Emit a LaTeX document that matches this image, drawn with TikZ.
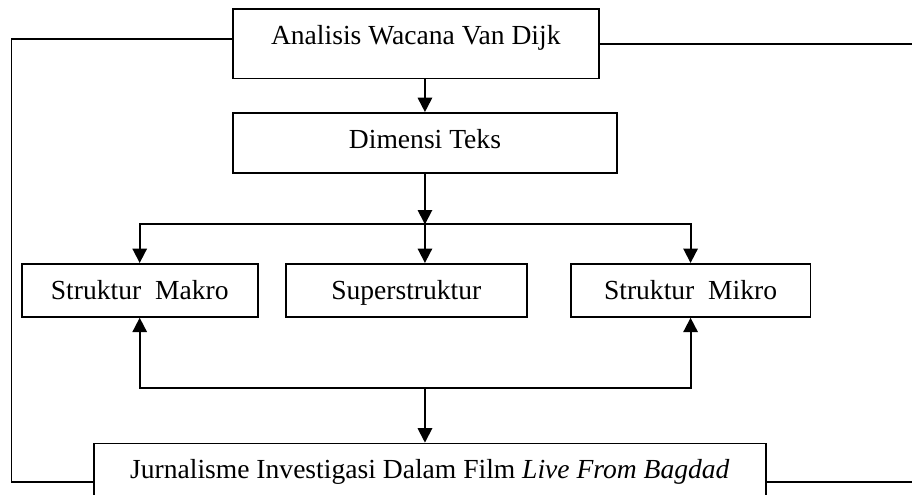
\documentclass[tikz,border=0pt]{standalone}
\usepackage{fontspec}
\setmainfont{Liberation Serif}
\usepackage{tikz}
\usetikzlibrary{positioning, calc, arrows.meta}
\tikzstyle{block} = [
    rectangle, text centered, draw=black, fill=white,
    line width=0.8pt, inner xsep=2mm, inner ysep=1mm, font=\fontsize{12}{14}\selectfont,
    text height=0.7em, text depth=0.22em
]
\tikzstyle{hightext} = [text height=0.7em, text depth=0.6em]
\tikzstyle{lowtext} = [text height=0.9em, text depth=0.07em]
\tikzstyle{arrow} = [line width=0.8pt, -{Triangle[length=2.2mm, width=2.2mm]}, black]
\tikzstyle{link} = [line width=0.8pt, black]

\begin{document}
\begin{tikzpicture}

    % page frame
    \useasboundingbox (-6.36,0.67) rectangle (7.59,-6.89);
    \clip (-6.36,0.67) rectangle (7.59,-6.89);

    % boxes
    \node[block, hightext, minimum width=5.6cm, minimum height=1.06cm] (analisis) at (0,0) {Analisis Wacana Van Dijk};
    \node[block, minimum width=5.88cm, minimum height=0.92cm] (dimensi) [below=0.5cm of analisis.south west, anchor=north west] {Dimensi Teks};
    \node[block, lowtext, minimum width=3.69cm, minimum height=0.81cm] (superstruktur) [below=1.36cm of dimensi.south west, xshift=0.81cm, anchor=north west] {Superstruktur};
    \node[block, lowtext, minimum width=3.61cm, minimum height=0.81cm] (makro) [left=0.4cm of superstruktur] {Struktur\ \ Makro};
    \node[block, lowtext, minimum width=3.67cm, minimum height=0.81cm] (mikro) [right=0.64cm of superstruktur] {Struktur\ \ Mikro};
    \node[block, text height=0.8em, minimum width=10.28cm, minimum height=0.86cm] (jurnalisme) [below=1.91cm of superstruktur, xshift=0.36cm] {Jurnalisme Investigasi Dalam Film \textit{Live From Bagdad}};

    % branch points
    \coordinate[below=0.77cm of dimensi.south] (split);
    \coordinate (merge) at ($(superstruktur.south -| split)+(0,-1.08)$);
    \coordinate[left=3.37cm of analisis.west, yshift=0.07cm] (anchor1);
    \coordinate[right=5cm of analisis.east] (anchor2);
    \coordinate[right=3cm of jurnalisme.east, yshift=-0.16cm] (anchor3);

    % arrows down from the top
    \draw[arrow] (analisis.south -| dimensi.north) -- (dimensi.north);
    \draw[arrow] (dimensi.south) -- (split);
    \draw[arrow] (split) -| (makro.north);
    \draw[arrow] (split) -- (split |- superstruktur.north);
    \draw[arrow] (split) -| (mikro.north);

    % arrows from the bottom box
    \draw[arrow] (merge) -| (makro.south);
    \draw[arrow] (merge) -| (mikro.south);
    \draw[arrow] (merge) -- (merge |- jurnalisme.north);

    % outer lines
    \draw[link] (analisis.west |- anchor1) -- (anchor1) |- ([yshift=-0.16cm]jurnalisme.west);
    \draw[link] (analisis.east) -- (anchor2);
    \draw[link] ([yshift=-0.16cm]jurnalisme.east) -- (anchor3);
\end{tikzpicture}
\end{document}
